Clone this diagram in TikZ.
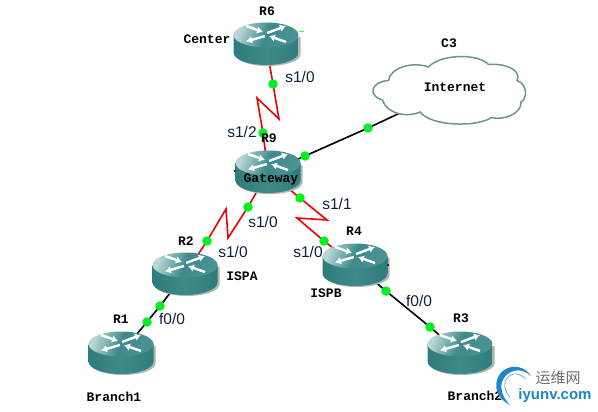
\documentclass[tikz,border=0pt]{standalone}
\usepackage{fontspec}
\setmainfont{Liberation Sans}
\newfontfamily\monob{Liberation Mono}
\newfontfamily\cjkf{Noto Sans CJK SC}
\usetikzlibrary{backgrounds,arrows.meta}
\definecolor{teal1}{HTML}{3C8A8A}
\definecolor{teal2}{HTML}{2F7C7C}
\definecolor{teallt}{HTML}{BAD6D6}
\definecolor{shadowc}{HTML}{B4B4B4}
\definecolor{linkred}{HTML}{F00000}
\definecolor{dotgreen}{HTML}{00F020}
\definecolor{cloudc}{HTML}{6F9295}
\definecolor{porttext}{HTML}{10203A}
\definecolor{wmblue}{HTML}{1E86C8}
\definecolor{wmgray}{HTML}{6E6E6E}
\tikzset{
  routerart/.pic={
    \fill[shadowc] (-30.5,-7) -- (-30.5,10.5) arc[start angle=180,end angle=0,x radius=32.5,y radius=11.5] -- (34.5,-7) -- cycle;
    \path[left color=teal2,right color=teal2,middle color=teal1] (-32.5,-9) -- (-32.5,8.5) arc[start angle=180,end angle=0,x radius=32.5,y radius=12.5] -- (32.5,-9) -- cycle;
    \shade[left color=teallt,right color=teal1!92!white,middle color=teal1,shading angle=70] (0,-9) circle[x radius=32.5,y radius=12.5];
    \draw[white,line width=2.4,-{Latex[length=6,width=7.5]}] (1,-11) -- (20,-18);
    \draw[white,line width=2.4,-{Latex[length=6,width=7.5]}] (-1,-8) -- (-20,-2.5);
    \draw[white,line width=2.4,-{Latex[length=6,width=7.5]}] (-20,-18) -- (-3,-12);
    \draw[white,line width=2.4,-{Latex[length=6,width=7.5]}] (20,-2) -- (3,-8);
  },
  routerbox/.style={rectangle,minimum width=65,minimum height=42,inner sep=0},
  portdot/.style={circle,fill=dotgreen,minimum size=9.5,inner sep=0},
  serial/.style={draw=linkred,line width=1.6,line join=miter},
  ether/.style={draw=black,line width=1.6},
  devlabel/.style={font=\monob\bfseries\fontsize{13}{13}\selectfont,text=black,inner sep=0},
  portlabel/.style={font=\fontsize{15.5}{16}\selectfont,text=porttext,inner sep=0},
}
\begin{document}
\begin{tikzpicture}[x=1pt,y=-1pt]
\path[use as bounding box] (0,0) rectangle (598,412);
% routers
\foreach \cx/\cy in {266/44,268/172,185/274,355/265,121/353,460/353}{
  \pic at (\cx,\cy) {routerart};
}
\node[routerbox] (r6) at (266,44) {};
\node[routerbox] (r9) at (268,172) {};
\node[routerbox] (r2) at (185,274) {};
\node[routerbox] (r4) at (355,265) {};
\node[routerbox] (r1) at (121,353) {};
\node[routerbox] (r3) at (460,353) {};
% small marks at router edges
\fill[black] (234.5,171) circle[radius=1];
\fill[black] (388,265) circle[radius=1];
\draw[dotgreen!70!white,line width=.5] (299,31) -- (304,31);
% cloud
\path[draw=cloudc,line width=1.5,fill=white]
  (388.5,80.5) .. controls (390,68) and (412,61) .. (428.5,67)
  .. controls (440,54) and (478,53) .. (488.5,64.5)
  .. controls (505,63) and (522,70) .. (517,80.5)
  .. controls (527,84) and (528,98) .. (521,102)
  .. controls (522,113) and (504,121) .. (491.5,117.5)
  .. controls (478,127) and (432,127) .. (420,112)
  .. controls (410,117) and (388,116) .. (382.5,100)
  .. controls (368,96) and (370,82) .. (388.5,80.5) -- cycle;
\node[inner sep=0,minimum width=40,minimum height=20] (cloud) at (448,92) {};
% port dots
\node[portdot] (a1) at (273,84) {};
\node[portdot] (a2) at (263,133) {};
\node[portdot] (b1) at (305,156) {};
\node[portdot] (b2) at (368,128) {};
\node[portdot] (c1) at (248,207) {};
\node[portdot] (c2) at (207,241) {};
\node[portdot] (d1) at (300,198) {};
\node[portdot] (d2) at (324,241) {};
\node[portdot] (e1) at (160,306) {};
\node[portdot] (e2) at (147,322) {};
\node[portdot] (f1) at (386,291) {};
\node[portdot] (f2) at (430,327) {};
\coordinate (k1a) at (279,119);
\coordinate (k1b) at (257,98);
\coordinate (k2a) at (228,238);
\coordinate (k2b) at (226,209);
\coordinate (k3a) at (327,220);
\coordinate (k3b) at (297,218);
\coordinate (cl) at (400,113);
% links and page background
\begin{scope}[on background layer]
  \fill[white] (0,0) rectangle (598,412);
  \draw[serial] (r6.center) -- (a1.center) -- (k1a) -- (k1b) -- (a2.center) -- (r9.center);
  \draw[serial] (r9.center) -- (c1.center) -- (k2a) -- (k2b) -- (c2.center) -- (r2.center);
  \draw[serial] (r9.center) -- (d1.center) -- (k3a) -- (k3b) -- (d2.center) -- (r4.center);
  \draw[ether] (r9.center) -- (b1.center) -- (b2.center) -- (cl);
  \draw[ether] (r2.center) -- (e1.center) -- (e2.center) -- (r1.center);
  \draw[ether] (r4.center) -- (f1.center) -- (f2.center) -- (r3.center);
\end{scope}
% labels
\node[devlabel] (lr6) at (267,11) {R6};
\node[devlabel] (lcen) at (207,39) {Center};
\node[devlabel] (lr9) at (269,138) {R9};
\node[devlabel] (lgw) at (271,180) {Gateway};
\node[devlabel] (lc3) at (449,43) {C3};
\node[devlabel] (lint) at (455,87) {Internet};
\node[devlabel] (lr2) at (186,241) {R2};
\node[devlabel] (lispa) at (242,276) {ISPA};
\node[devlabel] (lr4) at (354,231) {R4};
\node[devlabel] (lispb) at (326,293) {ISPB};
\node[devlabel] (lr1) at (121,319) {R1};
\node[devlabel] (lb1) at (114,397) {Branch1};
\node[devlabel] (lr3) at (461,318) {R3};
\node[devlabel] (lb2) at (475,396) {Branch2};
\node[portlabel] (p1) at (300,77) {s1/0};
\node[portlabel] (p2) at (242,132) {s1/2};
\node[portlabel] (p3) at (263,222) {s1/0};
\node[portlabel] (p4) at (233,252) {s1/0};
\node[portlabel] (p5) at (308,252) {s1/0};
\node[portlabel] (p6) at (337,204) {s1/1};
\node[portlabel] (p7) at (172,319) {f0/0};
\node[portlabel] (p8) at (419,301) {f0/0};
% watermark
\fill[wmblue] (531,376) .. controls (522,362) and (502,364) .. (497,380)
  .. controls (494,391) and (500,400) .. (510,405)
  .. controls (503,398) and (500,390) .. (502,382)
  .. controls (506,370) and (521,366) .. (531,376) -- cycle;
\draw[wmblue!70!white,line width=.7] (526,379) .. controls (518,371) and (508,373) .. (505,382) .. controls (504,388) and (506,393) .. (510,397);
\node[font=\cjkf\fontsize{15}{16}\selectfont,text=wmgray,inner sep=0] (wm1) at (558,378) {运维网};
\node[font=\bfseries\fontsize{15}{16}\selectfont,text=wmblue,inner sep=0] (wm2) at (555,396) {iyunv.com};
\end{tikzpicture}
\end{document}
